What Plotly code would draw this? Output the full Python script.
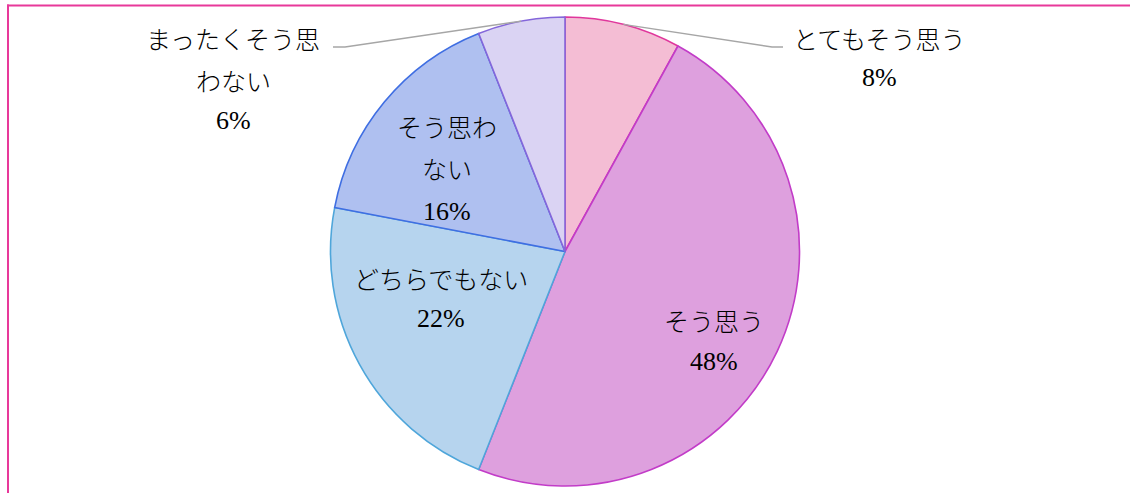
import math
import plotly.graph_objects as go

# ---- data ----
labels = ["とてもそう思う", "そう思う", "どちらでもない", "そう思わない", "まったくそう思わない"]
values = [8, 48, 22, 16, 6]
label_lines = [["とてもそう思う"], ["そう思う"], ["どちらでもない"], ["そう思わ", "ない"], ["まったくそう思", "わない"]]
pct_text = ["8%", "48%", "22%", "16%", "6%"]

# ---- styles ----
fill_colors = ["#f4bdd4", "#dea0de", "#b6d4ee", "#afc0f0", "#dad3f3"]
line_colors = ["#e0379c", "#c23cc8", "#4fa6da", "#3f6ee2", "#8466da"]
W, H = 1130, 493
cx, cy, R = 565.0, 251.5, 234.5  # pixel geometry of the pie

FONT = "Liberation Serif, 'Noto Sans CJK JP', serif"
FS_JP = 25
FS_PCT = 26

fig = go.Figure()
fig.add_trace(go.Pie(
    labels=labels, values=values, sort=False, direction="clockwise", rotation=0,
    textinfo="none", hoverinfo="label+percent",
    marker=dict(colors=fill_colors, line=dict(color=line_colors, width=1.6)),
    domain=dict(x=[(cx - R) / W, (cx + R) / W], y=[(H - cy - R) / H, (H - cy + R) / H]),
    showlegend=False,
))

def px(x):
    return x / W

def py(y):
    return 1 - y / H

# label anchor positions (pixel centres) for each slice: list of line y's
label_pos = {
    0: (879, [40, 78]),
    1: (714, [322, 361]),
    2: (441, [280, 318]),
    3: (447, [128, 170, 211]),
    4: (233, [40, 82, 121]),
}
annotations = []
for i, (x, ys) in label_pos.items():
    texts = label_lines[i] + [pct_text[i]]
    for j, (t, y) in enumerate(zip(texts, ys)):
        is_pct = j == len(texts) - 1
        fs = FS_PCT if is_pct else FS_JP
        annotations.append(dict(x=px(x), y=py(y), xref="paper", yref="paper", text=t,
                                showarrow=False, xanchor="center", yanchor="middle",
                                font=dict(family=FONT, size=fs, color="#000000",
                                          weight=400 if is_pct else 300)))

# leader lines for the two small outside-labelled slices, ending at slice mid-angle on the rim
total = sum(values)
cum = 0
mids = []
for v in values:
    mids.append((cum + v / 2) / total * 2 * math.pi)
    cum += v

shapes = []
leader = {0: (783, 772, 47), 4: (333, 345, 47)}
for i, (xs, xk, yl) in leader.items():
    a = mids[i]
    ex = cx + R * math.sin(a)
    ey = cy - R * math.cos(a)
    path = f"M {px(xs)} {py(yl)} L {px(xk)} {py(yl)} L {px(ex)} {py(ey)}"
    shapes.append(dict(type="path", xref="paper", yref="paper", path=path,
                       line=dict(color="#a6a6a6", width=1.5)))

# pink frame (top and left edges visible)
frame_color = "#e8399a"
shapes.append(dict(type="line", xref="paper", yref="paper", x0=px(7), x1=1.0, y0=py(5.5), y1=py(5.5),
                   line=dict(color=frame_color, width=1.8)))
shapes.append(dict(type="line", xref="paper", yref="paper", x0=px(8), x1=px(8), y0=py(4.6), y1=0,
                   line=dict(color=frame_color, width=2)))

fig.update_layout(
    width=W, height=H, margin=dict(l=0, r=0, t=0, b=0),
    paper_bgcolor="#ffffff", plot_bgcolor="#ffffff",
    annotations=annotations, shapes=shapes,
)
fig.write_html("out.html", config={"displayModeBar": False},
               post_script="document.body.style.margin='0px';")
